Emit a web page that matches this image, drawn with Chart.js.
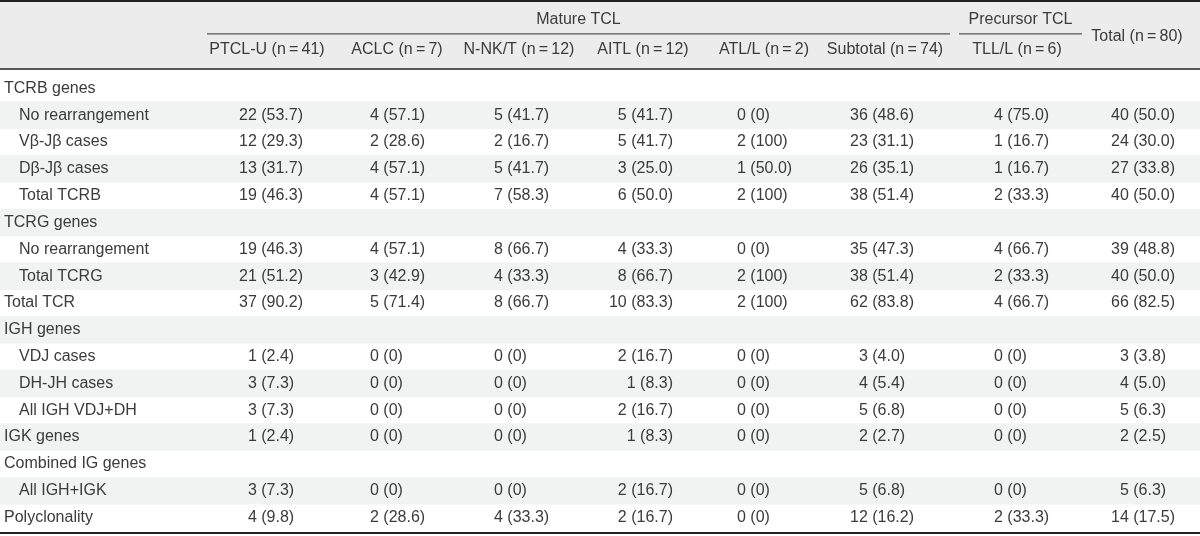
<!DOCTYPE html>
<html>
<head>
<meta charset="utf-8">
<title>Clonality by lymphoma type</title>
<script src="https://cdn.jsdelivr.net/npm/chart.js@4.4.1/dist/chart.umd.min.js"></script>
<style>
  html, body { margin: 0; padding: 0; background: #fff; }
  #wrap { width: 1200px; height: 536px; }
</style>
</head>
<body>
<div id="wrap"><canvas id="tableChart" width="1200" height="536"></canvas></div>
<script>
// ---- data ----
const groupHeaders = ['Mature TCL', 'Precursor TCL'];
const columns = ['PTCL-U (n\u2009=\u200941)', 'ACLC (n\u2009=\u20097)', 'N-NK/T (n\u2009=\u200912)', 'AITL (n\u2009=\u200912)',
                 'ATL/L (n\u2009=\u20092)', 'Subtotal (n\u2009=\u200974)', 'TLL/L (n\u2009=\u20096)', 'Total (n\u2009=\u200980)'];
const rowLabels = ['TCRB genes', 'No rearrangement', 'V\u03b2-J\u03b2 cases', 'D\u03b2-J\u03b2 cases', 'Total TCRB',
                   'TCRG genes', 'No rearrangement', 'Total TCRG', 'Total TCR',
                   'IGH genes', 'VDJ cases', 'DH-JH cases', 'All IGH VDJ+DH', 'IGK genes',
                   'Combined IG genes', 'All IGH+IGK', 'Polyclonality'];
const subRows = [1, 2, 3, 4, 6, 7, 10, 11, 12, 15];

const ptclCount  = [null, 22, 12, 13, 19, null, 19, 21, 37, null, 1, 3, 3, 1, null, 3, 4];
const ptclPct    = [null, 53.7, 29.3, 31.7, 46.3, null, 46.3, 51.2, 90.2, null, 2.4, 7.3, 7.3, 2.4, null, 7.3, 9.8];
const aclcCount  = [null, 4, 2, 4, 4, null, 4, 3, 5, null, 0, 0, 0, 0, null, 0, 2];
const aclcPct    = [null, 57.1, 28.6, 57.1, 57.1, null, 57.1, 42.9, 71.4, null, 0, 0, 0, 0, null, 0, 28.6];
const nnktCount  = [null, 5, 2, 5, 7, null, 8, 4, 8, null, 0, 0, 0, 0, null, 0, 4];
const nnktPct    = [null, 41.7, 16.7, 41.7, 58.3, null, 66.7, 33.3, 66.7, null, 0, 0, 0, 0, null, 0, 33.3];
const aitlCount  = [null, 5, 5, 3, 6, null, 4, 8, 10, null, 2, 1, 2, 1, null, 2, 2];
const aitlPct    = [null, 41.7, 41.7, 25.0, 50.0, null, 33.3, 66.7, 83.3, null, 16.7, 8.3, 16.7, 8.3, null, 16.7, 16.7];
const atlCount   = [null, 0, 2, 1, 2, null, 0, 2, 2, null, 0, 0, 0, 0, null, 0, 0];
const atlPct     = [null, 0, 100, 50.0, 100, null, 0, 100, 100, null, 0, 0, 0, 0, null, 0, 0];
const subCount   = [null, 36, 23, 26, 38, null, 35, 38, 62, null, 3, 4, 5, 2, null, 5, 12];
const subPct     = [null, 48.6, 31.1, 35.1, 51.4, null, 47.3, 51.4, 83.8, null, 4.0, 5.4, 6.8, 2.7, null, 6.8, 16.2];
const tllCount   = [null, 4, 1, 1, 2, null, 4, 2, 4, null, 0, 0, 0, 0, null, 0, 2];
const tllPct     = [null, 75.0, 16.7, 16.7, 33.3, null, 66.7, 33.3, 66.7, null, 0, 0, 0, 0, null, 0, 33.3];
const totalCount = [null, 40, 24, 27, 40, null, 39, 40, 66, null, 3, 4, 5, 2, null, 5, 14];
const totalPct   = [null, 50.0, 30.0, 33.8, 50.0, null, 48.8, 50.0, 82.5, null, 3.8, 5.0, 6.3, 2.5, null, 6.3, 17.5];

const counts = [ptclCount, aclcCount, nnktCount, aitlCount, atlCount, subCount, tllCount, totalCount];
const pcts = [ptclPct, aclcPct, nnktPct, aitlPct, atlPct, subPct, tllPct, totalPct];

// ---- layout (x in table units 0..1200, y in row units) ----
const colX = [271, 370, 494, 673, 737, 882, 994, 1143];
const colAlign = ['center', 'left', 'left', 'right', 'left', 'center', 'left', 'center'];
const headX = [267, 397, 519, 643, 764, 885, 1017, 1137];
const groupSpan = [[207, 950], [959, 1082]];
const Y_TOP = -3.296, Y_BOTTOM = 16.689;
const Y_GROUP = -2.55, Y_GROUP_LINE = -2.03, Y_HEAD = -1.43, Y_HEAD_MID = -1.92, Y_HEAD_LINE = -0.72, Y_END_LINE = 16.58;

const FONT = '16px "Liberation Sans", Arial, sans-serif';
const TEXT = '#3b3b3b';

function fmt(n, p) {
    if (n === null) return '';
    const ps = (p === 0 || p === 100) ? String(p) : p.toFixed(1);
    return n + ' (' + ps + ')';
}

const stripeRows = rowLabels.map((_, i) => i).filter(i => i % 2 === 1);

const tablePlugin = {
    id: 'tableText',
    beforeDatasetsDraw(chart) {
        const { ctx, scales: { x, y } } = chart;
        ctx.save();
        ctx.fillStyle = '#ececec';
        ctx.fillRect(x.getPixelForValue(0), y.getPixelForValue(Y_TOP),
                     x.getPixelForValue(1200) - x.getPixelForValue(0),
                     y.getPixelForValue(Y_HEAD_LINE) - y.getPixelForValue(Y_TOP));
        ctx.restore();
    },
    afterDatasetsDraw(chart) {
        const { ctx, scales: { x, y } } = chart;
        ctx.save();
        const hline = (v, x0, x1, w, c) => {
            ctx.beginPath();
            ctx.strokeStyle = c;
            ctx.lineWidth = w;
            ctx.moveTo(x.getPixelForValue(x0), y.getPixelForValue(v));
            ctx.lineTo(x.getPixelForValue(x1), y.getPixelForValue(v));
            ctx.stroke();
        };
        hline(Y_TOP + 0.04, 0, 1200, 2, '#222');
        hline(Y_HEAD_LINE, 0, 1200, 1.5, '#222');
        hline(Y_END_LINE, 0, 1200, 2, '#222');
        groupSpan.forEach(s => hline(Y_GROUP_LINE, s[0], s[1], 1.2, '#555'));

        ctx.font = FONT;
        ctx.fillStyle = TEXT;
        ctx.textBaseline = 'middle';

        // header
        ctx.textAlign = 'center';
        groupHeaders.forEach((g, i) => {
            ctx.fillText(g, x.getPixelForValue((groupSpan[i][0] + groupSpan[i][1]) / 2), y.getPixelForValue(Y_GROUP));
        });
        columns.forEach((c, i) => {
            const yy = i === columns.length - 1 ? Y_HEAD_MID : Y_HEAD;
            ctx.fillText(c, x.getPixelForValue(headX[i]), y.getPixelForValue(yy));
        });

        // body
        rowLabels.forEach((lab, r) => {
            ctx.textAlign = 'left';
            const lx = subRows.includes(r) ? 19 : 4;
            ctx.fillText(lab, x.getPixelForValue(lx), y.getPixelForValue(r));
            counts.forEach((col, c) => {
                const s = fmt(col[r], pcts[c][r]);
                if (!s) return;
                ctx.textAlign = colAlign[c];
                ctx.fillText(s, x.getPixelForValue(colX[c]), y.getPixelForValue(r));
            });
        });
        ctx.restore();
    }
};

new Chart(document.getElementById('tableChart'), {
    type: 'bar',
    data: {
        datasets: [{
            label: 'stripes',
            data: stripeRows.map(r => ({ y: r, x: [0, 1200] })),
            backgroundColor: '#f1f2f2',
            borderWidth: 0,
            categoryPercentage: 1,
            barPercentage: 1
        }]
    },
    options: {
        indexAxis: 'y',
        responsive: false,
        animation: false,
        devicePixelRatio: 1,
        layout: { padding: 0 },
        plugins: { legend: { display: false }, tooltip: { enabled: false } },
        scales: {
            x: { type: 'linear', min: 0, max: 1200, display: false },
            y: {
                type: 'linear', min: Y_TOP, max: Y_BOTTOM, reverse: true, display: false, offset: false,
                afterBuildTicks: s => { s.ticks = rowLabels.map((_, i) => ({ value: i })); }
            }
        }
    },
    plugins: [tablePlugin]
});
</script>
</body>
</html>
